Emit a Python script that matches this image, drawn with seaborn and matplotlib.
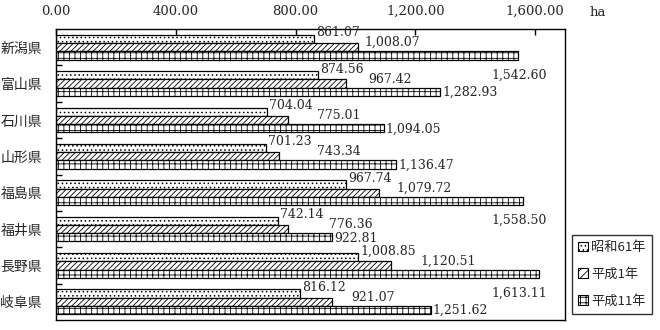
import matplotlib
matplotlib.use("Agg")
import matplotlib.pyplot as plt
import matplotlib.ticker as mticker
from matplotlib.patches import Patch
import seaborn as sns
import pandas as pd

prefectures = ["新潟県", "富山県", "石川県", "山形県", "福島県", "福井県", "長野県", "岐阜県"]
years = ["昭和61年", "平成1年", "平成11年"]
s61 = [861.07, 874.56, 704.04, 701.23, 967.74, 742.14, 1008.85, 816.12]
h01 = [1008.07, 967.42, 775.01, 743.34, 1079.72, 776.36, 1120.51, 921.07]
h11 = [1542.60, 1282.93, 1094.05, 1136.47, 1558.50, 922.81, 1613.11, 1251.62]
x_ticks = [0, 400, 800, 1200, 1600]
unit = "ha"

series = [s61, h01, h11]
rows = []
for yr, vals in zip(years, series):
    for p, v in zip(prefectures, vals):
        rows.append({"県": p, "面積": v, "年": yr})
df = pd.DataFrame(rows)

sns.set_theme(style="white")
plt.rcParams["font.family"] = ["Noto Sans CJK JP", "DejaVu Sans"]
plt.rcParams["hatch.linewidth"] = 0.6
plt.rcParams["hatch.color"] = "black"
num_font = ["DejaVu Serif"]

fig = plt.figure(figsize=(6.6, 3.3), dpi=100)
ax = fig.add_axes([56 / 660, 1 - 320 / 330, (565 - 56) / 660, (320 - 29) / 330])

sns.barplot(data=df, y="県", x="面積", hue="年", hue_order=years, order=prefectures,
            orient="h", width=0.68, palette=["white"] * 3, edgecolor="black",
            linewidth=0.9, legend=False, ax=ax, saturation=1)

hatches = ["....", "//////", "+++"]
for cont, h in zip(ax.containers, hatches):
    for patch in cont.patches:
        patch.set_hatch(h)
        patch.set_facecolor("white")
        patch.set_edgecolor("black")

xmax = 1700
ax.set_xlim(0, xmax)
ax.set_ylim(len(prefectures) - 0.5, -0.5)

ax.xaxis.tick_top()
ax.set_xticks(x_ticks)
ax.xaxis.set_major_formatter(mticker.FuncFormatter(lambda v, p: f"{v:,.2f}"))
ax.tick_params(axis="x", which="major", direction="in", length=4, width=1,
               color="black", pad=8, labelsize=9.5, top=True, bottom=False)
for lbl in ax.get_xticklabels():
    lbl.set_family(num_font)
ax.set_yticks(range(len(prefectures)))
ax.set_yticklabels(prefectures)
ax.tick_params(axis="y", which="major", length=0, pad=10, labelsize=10)
ax.set_yticks([i + 0.5 for i in range(len(prefectures) - 1)], minor=True)
ax.tick_params(axis="y", which="minor", direction="in", length=4, width=1,
               color="black", left=True)
ax.set_xlabel("")
ax.set_ylabel("")
for sp in ax.spines.values():
    sp.set_visible(True)
    sp.set_color("black")
    sp.set_linewidth(1)

fs = 9
c1, c2, c3 = ax.containers
for i in range(len(prefectures)):
    p1, p2, p3 = c1.patches[i], c2.patches[i], c3.patches[i]
    y1 = p1.get_y() + p1.get_height() / 2
    y2 = p2.get_y() + p2.get_height() / 2
    y3 = p3.get_y() + p3.get_height() / 2
    t1 = ax.annotate(f"{s61[i]:,.2f}", xy=(s61[i], y1), xytext=(1.5, 4.5),
                     textcoords="offset points", ha="left", va="center",
                     fontsize=fs, family=num_font)
    ax.annotate(f"{h01[i]:,.2f}", xy=(1, y2), xycoords=(t1, "data"),
                xytext=(3.5, 3.2), textcoords="offset points", ha="left",
                va="center", fontsize=fs, family=num_font)
    if h11[i] > xmax - 170:
        ax.annotate(f"{h11[i]:,.2f}", xy=(1640, y3), xytext=(0, -14),
                    textcoords="offset points", ha="right", va="center",
                    fontsize=fs, family=num_font)
    else:
        ax.annotate(f"{h11[i]:,.2f}", xy=(h11[i], y3), xytext=(1.5, -0.5),
                    textcoords="offset points", ha="left", va="center",
                    fontsize=fs, family=num_font)

fig.text(598 / 660, 1 - 12 / 330, unit, ha="center", va="center",
         fontsize=9.5, family=num_font)

handles = [Patch(facecolor="white", edgecolor="black", hatch=h, linewidth=0.8)
           for h in ["....", "////", "+++"]]
leg = fig.legend(handles, years, loc="upper left",
                 bbox_to_anchor=(572 / 660, 1 - 235 / 330),
                 frameon=True, fancybox=False, shadow=False, fontsize=9.5,
                 handlelength=0.75, handleheight=0.75, handletextpad=0.25,
                 labelspacing=1.05, borderpad=0.45, borderaxespad=0)
leg.get_frame().set_edgecolor("black")
leg.get_frame().set_linewidth(1)

fig.savefig("out.png", dpi=100)
